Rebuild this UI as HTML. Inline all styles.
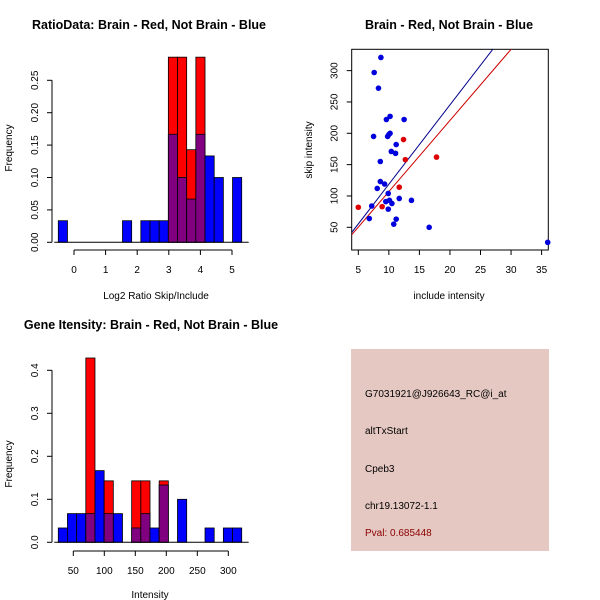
<!DOCTYPE html>
<html><head><meta charset="utf-8"><style>
body{margin:0;background:#fff}
svg{display:block;font-family:"Liberation Sans",sans-serif}
</style></head><body>
<svg id="c" width="600" height="600" viewBox="0 0 600 600">
<rect width="600" height="600" fill="#fff"/>
<text x="149" y="29" font-size="12.5" font-weight="bold" text-anchor="middle">RatioData: Brain - Red, Not Brain - Blue</text>
<text x="449" y="29" font-size="12.5" font-weight="bold" text-anchor="middle">Brain - Red, Not Brain - Blue</text>
<text x="151" y="329" font-size="12.5" font-weight="bold" text-anchor="middle">Gene Itensity: Brain - Red, Not Brain - Blue</text>
<text x="156" y="299" font-size="10" text-anchor="middle">Log2 Ratio Skip/Include</text>
<text transform="translate(12,148) rotate(-90)" font-size="10" text-anchor="middle">Frequency</text>
<text x="449" y="299" font-size="10" text-anchor="middle">include intensity</text>
<text transform="translate(312,150) rotate(-90)" font-size="10" text-anchor="middle">skip intensity</text>
<text x="150" y="598" font-size="10" text-anchor="middle">Intensity</text>
<text transform="translate(12,464) rotate(-90)" font-size="10" text-anchor="middle">Frequency</text>
<g>
<rect x="351" y="349" width="198" height="202" fill="#e5c8c2"/>
<text x="365" y="397" font-size="10">G7031921@J926643_RC@i_at</text>
<text x="365" y="434" font-size="10">altTxStart</text>
<text x="365" y="472" font-size="10">Cpeb3</text>
<text x="365" y="509" font-size="10">chr19.13072-1.1</text>
<text x="365" y="536" font-size="10" fill="#8b0000">Pval: 0.685448</text>
</g>
<g id="g1"></g><g id="g2"></g><g id="g3"></g>
</svg>
<script>
// Ratio histogram data (20 bins)
const ratioBlue=[0.0333,0,0,0,0,0,0,0.0333,0,0.0333,0.0333,0.0333,0.1667,0.1,0.0667,0.1667,0.1333,0.1,0,0.1];
const ratioRed=[0,0,0,0,0,0,0,0,0,0,0,0,0.2857,0.2857,0.1429,0.2857,0,0,0,0];
const ratioXTicks=[0,1,2,3,4,5];
const ratioYTicks=["0.00","0.05","0.10","0.15","0.20","0.25"];
// Intensity histogram data (20 bins)
const intBlue=[0.0333,0.0667,0.0667,0.0667,0.1667,0.0667,0.0667,0,0.0333,0.0667,0.0333,0.1333,0,0.1,0,0,0.0333,0,0.0333,0.0333];
const intRed=[0,0,0,0.4286,0,0.1429,0,0,0.1429,0.1429,0,0.1429,0,0,0,0,0,0,0,0];
const intXTicks=[50,100,150,200,250,300];
const intYTicks=["0.0","0.1","0.2","0.3","0.4"];
// Scatter data
const blueX=[8.7,7.6,8.3,9.6,10.2,12.5,7.5,9.8,10.0,10.2,11.2,10.4,11.1,8.6,8.6,9.3,8.1,9.9,7.2,9.5,10.1,10.5,11.7,13.7,9.9,6.8,11.2,10.8,16.6,36];
const blueY=[321,297,272,222,227,222,195,195,198,200,182,171,168,155,123,119,112,104,84,91,93,88,96,93,79,64,63,55,50,26];
const redX=[5.0,8.9,11.7,12.4,12.7,17.8];
const redY=[82,83,114,190,158,162];
const blueFit=[-7.9,12.66];
const redFit=[-6.5,11.35];
const scXTicks=[5,10,15,20,25,30,35];
const scYTicks=[50,100,150,200,250,300];

const NS="http://www.w3.org/2000/svg";
function mk(p,t,a){const e=document.createElementNS(NS,t);for(const k in a)e.setAttribute(k,a[k]);p.appendChild(e);return e;}

function hist(g,blue,red,x0,bw,base,yScale,xTicks,xTickPx,yTicks,yTickVal,axX,xAxY){
  for(let i=0;i<blue.length;i++){
    const x=x0+i*bw,b=blue[i],r=red[i];
    if(r>0){const e=mk(g,'rect',{x:x,y:base-r*yScale,width:bw,height:r*yScale,fill:'#ff0000',stroke:'#000','stroke-width':0.8});
      
      }
    if(b>0){
      if(r>0){
        const ov=Math.min(b,r);
        if(b>r){const e2=mk(g,'rect',{x:x,y:base-b*yScale,width:bw,height:(b-r)*yScale,fill:'#0000ff',stroke:'#000','stroke-width':0.8});
          
          }
        const e=mk(g,'rect',{x:x,y:base-ov*yScale,width:bw,height:ov*yScale,fill:'#800080',stroke:'#000','stroke-width':0.8});
        
        
      } else {
        const e=mk(g,'rect',{x:x,y:base-b*yScale,width:bw,height:b*yScale,fill:'#0000ff',stroke:'#000','stroke-width':0.8});
        
        
      }
    }
  }
  mk(g,'line',{x1:x0-4,x2:x0+blue.length*bw+7,y1:base,y2:base,stroke:'#000'});
  mk(g,'line',{x1:axX,x2:axX,y1:base,y2:base-yTickVal[yTickVal.length-1]*yScale,stroke:'#000'});
  yTicks.forEach((t,i)=>{const y=base-yTickVal[i]*yScale;mk(g,'line',{x1:axX-5,x2:axX,y1:y,y2:y,stroke:'#000'});
    const tx=mk(g,'text',{transform:`translate(${axX-14},${y}) rotate(-90)`,'font-size':10,'text-anchor':'middle'});tx.textContent=t;
    
    });
  mk(g,'line',{x1:xTickPx(xTicks[0]),x2:xTickPx(xTicks[xTicks.length-1]),y1:xAxY,y2:xAxY,stroke:'#000'});
  xTicks.forEach(t=>{const x=xTickPx(t);mk(g,'line',{x1:x,x2:x,y1:xAxY,y2:xAxY+5,stroke:'#000'});
    const tx=mk(g,'text',{x:x,y:xAxY+23,'font-size':10,'text-anchor':'middle'});tx.textContent=t;
    
    });
}
const g1=document.getElementById('g1');


hist(g1,ratioBlue,ratioRed,58.3,9.17,242.3,648,ratioXTicks,v=>74+v*31.6,ratioYTicks,[0,0.05,0.1,0.15,0.2,0.25],52,250);
const g3=document.getElementById('g3');


hist(g3,intBlue,intRed,58.3,9.17,542.3,430,intXTicks,v=>73.3+(v-50)*0.62,intYTicks,[0,0.1,0.2,0.3,0.4],52,551);

// scatter
const g2=document.getElementById('g2');


const L=351.7,R=548.3,T=49.3,B=250;
const sx=v=>358.3+(v-5)*6.11, sy=v=>227.3-(v-50)*0.6267;
mk(g2,'rect',{x:L,y:T,width:R-L,height:B-T,fill:'none',stroke:'#000'});
const cp=mk(g2,'clipPath',{id:'cl'});mk(cp,'rect',{x:L,y:T,width:R-L,height:B-T});
[[blueFit,'#00008b','blue-fit-line'],[redFit,'#cc0000','red-fit-line']].forEach(([f,c,n])=>{
  const xa=3.9,xb=36.5;
  const l=mk(g2,'line',{x1:sx(xa),y1:sy(f[0]+f[1]*xa),x2:sx(xb),y2:sy(f[0]+f[1]*xb),stroke:c,'stroke-width':1,'clip-path':'url(#cl)'});
  
  
});
blueX.forEach((v,i)=>{const p=mk(g2,'circle',{cx:sx(v),cy:sy(blueY[i]),r:2.8,fill:'#0000dd'});
  
  });
redX.forEach((v,i)=>{const p=mk(g2,'circle',{cx:sx(v),cy:sy(redY[i]),r:2.8,fill:'#dd0000'});
  
  });
scXTicks.forEach(t=>{const x=sx(t);mk(g2,'line',{x1:x,x2:x,y1:B,y2:B+5,stroke:'#000'});
  const tx=mk(g2,'text',{x:x,y:B+23,'font-size':10,'text-anchor':'middle'});tx.textContent=t;
  
  });
scYTicks.forEach(t=>{const y=sy(t);mk(g2,'line',{x1:L-5,x2:L,y1:y,y2:y,stroke:'#000'});
  const tx=mk(g2,'text',{transform:`translate(${L-14},${y}) rotate(-90)`,'font-size':10,'text-anchor':'middle'});tx.textContent=t;
  
  });
</script>
</body></html>
